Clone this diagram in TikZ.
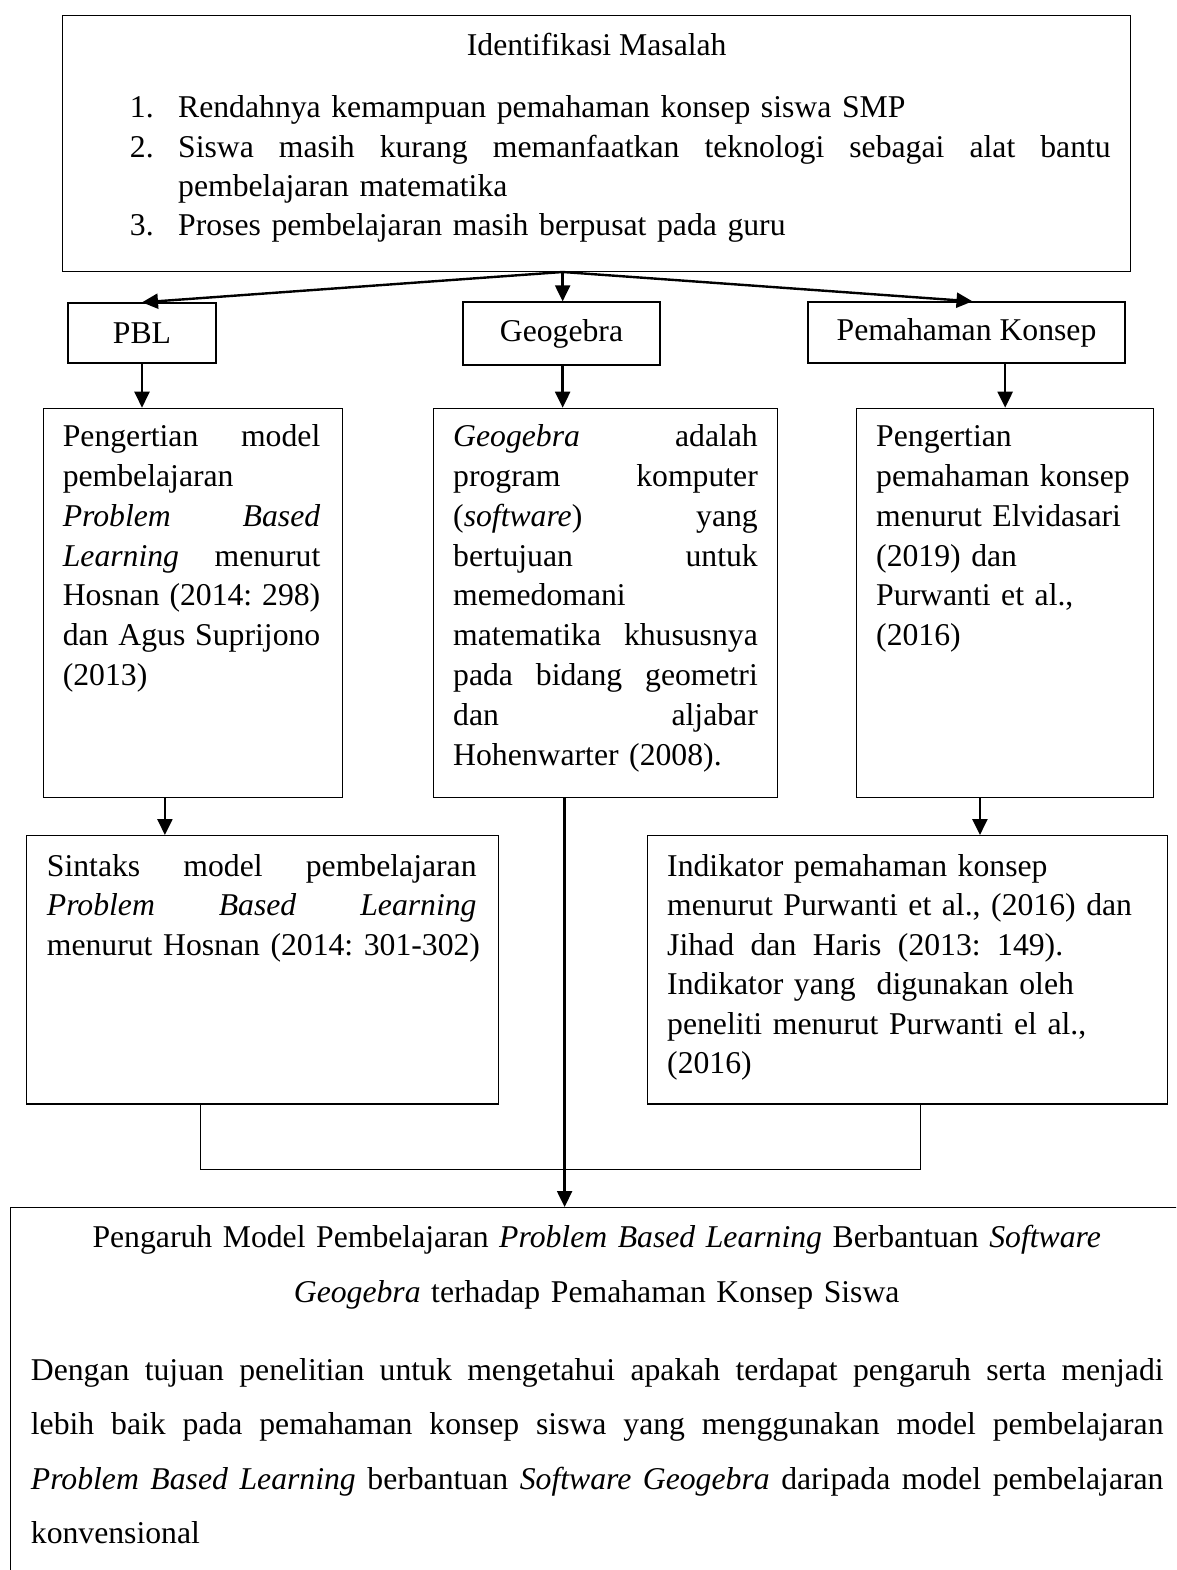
\documentclass[tikz,border=0pt]{standalone}
\usepackage{fontspec}
\setmainfont{Liberation Serif}
\usetikzlibrary{arrows.meta}
\newcommand\jl[2]{\makebox[#1pt][s]{#2}}
\frenchspacing
\begin{document}
\begin{tikzpicture}[x=1pt,y=-1pt,
  box/.style={draw, line width=1.3pt, inner sep=0pt, anchor=north west},
  sbox/.style={draw, line width=1.3pt, inner sep=0pt, font=\fontsize{31.7pt}{39.6pt}\selectfont},
  txt/.style={inner sep=0pt, anchor=base west, align=left, font=\fontsize{31.7pt}{#1pt}\selectfont\frenchspacing},
  txt/.default=39.8,
  arr/.style={-{Triangle[length=16pt,width=15pt]}, line width=2.4pt},
  ln/.style={line width=1.2pt}]
\useasboundingbox (0,0) rectangle (1176,1570);
\clip (0,0) rectangle (1176,1570);

% boxes
\node[box, minimum width=1068pt, minimum height=255.7pt] (top) at (62,15) {};
\node[sbox, minimum width=148pt, minimum height=60pt] (pbl) at (142,333) {PBL};
\node[sbox, minimum width=197pt, minimum height=63pt] (geo) at (561.5,333.5) {Geogebra};
\node[sbox, minimum width=317pt, minimum height=61pt] (pk) at (966.5,332.5) {Pemahaman Konsep};
\node[box, minimum width=298.5pt, minimum height=389pt] (r2a) at (43,407.7) {};
\node[box, minimum width=344.3pt, minimum height=389pt] (r2b) at (432.7,407.7) {};
\node[box, minimum width=297pt, minimum height=389pt] (r2c) at (856,407.7) {};
\node[box, minimum width=471.5pt, minimum height=268.3pt] (r3a) at (26,835) {};
\node[box, minimum width=520pt, minimum height=268.3pt] (r3b) at (647,835) {};
\node[box, minimum width=1185pt, minimum height=400pt] (final) at (10,1207) {};

% top text
\node[txt, anchor=base] (ttl) at (596.7,56) {Identifikasi Masalah};
\node[txt=39.3, text width=981pt] (list) at (129.7,118) {%
\makebox[48.3pt][l]{1.}Rendahnya kemampuan pemahaman konsep siswa SMP\\
\makebox[48.3pt][l]{2.}\jl{932.5}{Siswa\hfill masih\hfill kurang\hfill memanfaatkan\hfill teknologi\hfill sebagai\hfill alat\hfill bantu}\\
\hspace*{48.3pt}pembelajaran matematika\\
\makebox[48.3pt][l]{3.}Proses pembelajaran masih berpusat pada guru};

% row 2 text
\node[txt, text width=257.5pt] (t2a) at (62.6,446.7) {%
\jl{257.5}{Pengertian\hfill model}\\
pembelajaran\\
\jl{257.5}{\textit{Problem}\hfill\textit{Based}}\\
\jl{257.5}{\textit{Learning}\hfill menurut}\\
\jl{257.5}{Hosnan\hfill (2014:\hfill 298)}\\
\jl{257.5}{dan\hfill Agus\hfill Suprijono}\\
(2013)};
\node[txt, text width=304.6pt] (t2b) at (453,446.7) {%
\jl{304.6}{\textit{Geogebra}\hfill adalah}\\
\jl{304.6}{program\hfill komputer}\\
\jl{304.6}{(\textit{software})\hfill yang}\\
\jl{304.6}{bertujuan\hfill untuk}\\
memedomani\\
\jl{304.6}{matematika\hfill khususnya}\\
\jl{304.6}{pada\hfill bidang\hfill geometri}\\
\jl{304.6}{dan\hfill aljabar}\\
Hohenwarter (2008).};
\node[txt, text width=270pt] (t2c) at (876,446.7) {%
Pengertian\\
pemahaman konsep\\
menurut Elvidasari\\
(2019) dan\\
Purwanti et al.,\\
(2016)};

% row 3 text
\node[txt=39.5, text width=440pt] (t3a) at (46.7,876) {%
\jl{429.7}{Sintaks\hfill model\hfill pembelajaran}\\
\jl{429.7}{\textit{Problem}\hfill\textit{Based}\hfill\textit{Learning}}\\
menurut Hosnan (2014: 301-302)};
\node[txt=39.5, text width=480pt] (t3b) at (667,876) {%
Indikator pemahaman konsep\\
menurut Purwanti et al., (2016) dan\\
\jl{396}{Jihad\hfill dan\hfill Haris\hfill (2013:\hfill 149).}\\
Indikator yang\ \ digunakan oleh\\
peneliti menurut Purwanti el al.,\\
(2016)};

% final text
\node[txt=55, anchor=base, text width=1132pt, align=center] (ft) at (596.7,1247) {%
Pengaruh Model Pembelajaran \textit{Problem Based Learning} Berbantuan \textit{Software}\\
\textit{Geogebra} terhadap Pemahaman Konsep Siswa};
\node[txt=54.5, text width=1140pt] (fp) at (30.7,1380) {%
\jl{1132.6}{Dengan\hfill tujuan\hfill penelitian\hfill untuk\hfill mengetahui\hfill apakah\hfill terdapat\hfill pengaruh\hfill serta\hfill menjadi}\\
\jl{1132.6}{lebih\hfill baik\hfill pada\hfill pemahaman\hfill konsep\hfill siswa\hfill yang\hfill menggunakan\hfill model\hfill pembelajaran}\\
\jl{1132.6}{\textit{Problem}\hfill\textit{Based}\hfill\textit{Learning}\hfill berbantuan\hfill\textit{Software}\hfill\textit{Geogebra}\hfill daripada\hfill model\hfill pembelajaran}\\
konvensional};

% connectors
\coordinate (apex) at ([xshift=-34pt]top.south);
\draw[arr] (apex) -- (pbl.north);
\draw[arr] (apex) -- (apex |- geo.north);
\draw[arr] (apex) -- ([xshift=6pt]pk.north);
\draw[arr] (pbl.south) -- (pbl.south |- r2a.north);
\draw[arr] (apex |- geo.south) -- (apex |- r2b.north);
\draw[arr] (pk.south -| r2c.north) -- (r2c.north);
\draw[arr] ([xshift=-28pt]r2a.south) -- ([xshift=-28pt]r2a.south |- r3a.north);
\draw[arr] ([xshift=-25.2pt]r2c.south) -- ([xshift=-25.2pt]r2c.south |- r3b.north);
\coordinate (ml) at ([xshift=-62pt]r3a.south);
\coordinate (mr) at ([xshift=12.7pt]r3b.south);
\draw[ln] (ml) -- ++(0,65) -| (mr);
\draw[arr] ([xshift=-40.9pt]r2b.south) -- ([xshift=-40.9pt]r2b.south |- final.north);
\end{tikzpicture}
\end{document}
